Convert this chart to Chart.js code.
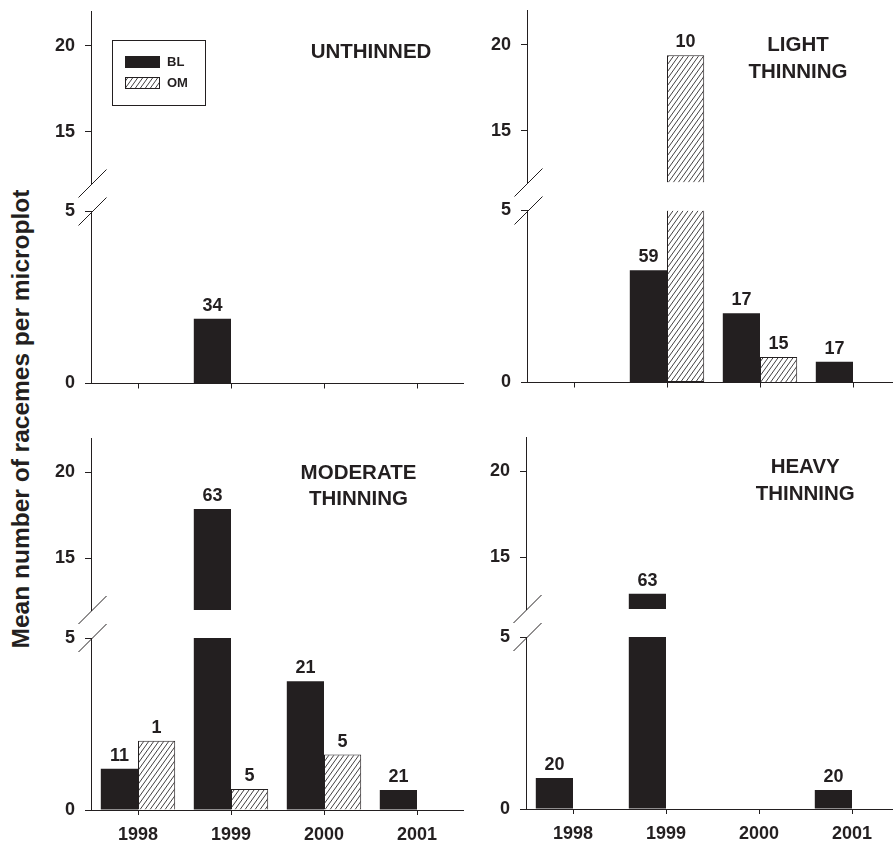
<!DOCTYPE html>
<html>
<head>
<meta charset="utf-8">
<script src="https://cdn.jsdelivr.net/npm/chart.js@4.4.0/dist/chart.umd.min.js"></script>
<style>
  html, body { margin: 0; padding: 0; background: #fff; overflow: hidden; }
  #fig { position: relative; width: 893px; height: 843px; overflow: hidden; background: #fff; }
  #fig canvas { position: absolute; }
  #ytitle {
    position: absolute; left: 21px; top: 419px;
    transform: translate(-50%, -50%) rotate(-90deg);
    font: bold 24.5px 'Liberation Sans', Arial, Helvetica, sans-serif;
    color: #231f20; white-space: nowrap;
  }
</style>
</head>
<body>
<div id="fig">
  <div id="ytitle">Mean number of racemes per microplot</div>
</div>
<script>
// ---- data ----------------------------------------------------------------
const YEARS = ['1998', '1999', '2000', '2001'];
const LOW_TICKS = [0, 5];
const HIGH_TICKS = [15, 20];
const LOW_RANGE = [0, 5];     // lower segment of the broken axis
const HIGH_RANGE = [12, 22];  // upper segment of the broken axis

// mean racemes per microplot, and sample sizes printed above the bars
const UNTHINNED_BL = [0, 1.88, 0, 0];
const UNTHINNED_OM = [0, 0, 0, 0];
const UNTHINNED_BL_N = [null, 34, null, null];
const UNTHINNED_OM_N = [null, null, null, null];

const LIGHT_BL = [0, 3.26, 2.01, 0.60];
const LIGHT_OM = [0, 19.4, 0.74, 0];
const LIGHT_BL_N = [null, 59, 17, 17];
const LIGHT_OM_N = [null, 10, 15, null];

const MODERATE_BL = [1.20, 17.87, 3.74, 0.58];
const MODERATE_OM = [2.01, 0.61, 1.61, 0];
const MODERATE_BL_N = [11, 63, 21, 21];
const MODERATE_OM_N = [1, 5, 5, null];

const HEAVY_BL = [0.90, 12.89, 0, 0.55];
const HEAVY_OM = [0, 0, 0, 0];
const HEAVY_BL_N = [20, 63, null, 20];
const HEAVY_OM_N = [null, null, null, null];

// ---- styling ---------------------------------------------------------------
const INK = '#231f20';
const FONT = "'Liberation Sans', Arial, Helvetica, sans-serif";
Chart.defaults.font.family = FONT;
Chart.defaults.font.weight = 'bold';
Chart.defaults.color = INK;

function makeHatch() {
  const w = 5, h = 7;
  const c = document.createElement('canvas');
  c.width = w; c.height = h;
  const g = c.getContext('2d');
  g.fillStyle = '#fff';
  g.fillRect(0, 0, w, h);
  g.strokeStyle = '#2e2a2b';
  g.lineWidth = 0.9;
  for (let k = -1; k <= 1; k++) {
    g.beginPath();
    g.moveTo(k * w, h);
    g.lineTo(k * w + w, 0);
    g.stroke();
  }
  return g.createPattern(c, 'repeat');
}
const HATCH = makeHatch();

const lowPart = v => (v == null ? null : Math.min(v, LOW_RANGE[1]));
const highPart = v => (v != null && v > HIGH_RANGE[0] ? [HIGH_RANGE[0], v] : null);

// ---- decorations: n labels, panel titles, legend, axis-break marks --------
const panelDeco = {
  id: 'panelDeco',
  afterDatasetsDraw(chart, args, o) {
    const ctx = chart.ctx;
    ctx.save();
    ctx.fillStyle = INK;
    ctx.font = 'bold 18px ' + FONT;
    ctx.textAlign = 'center';
    ctx.textBaseline = 'alphabetic';
    [[0, 2, o.blN], [1, 3, o.omN]].forEach(([lo, hi, ns]) => {
      ns.forEach((n, i) => {
        if (n == null) return;
        const useHigh = chart.data.datasets[hi].data[i] != null;
        const el = chart.getDatasetMeta(useHigh ? hi : lo).data[i];
        ctx.fillText(String(n), el.x, el.y - 8);
      });
    });
    ctx.restore();
  },
  afterDraw(chart, args, o) {
    const ctx = chart.ctx;
    const a = chart.chartArea;
    ctx.save();
    // panel title
    ctx.fillStyle = INK;
    ctx.font = 'bold 20.5px ' + FONT;
    ctx.textAlign = 'center';
    ctx.textBaseline = 'middle';
    o.title.forEach((line, k) => {
      ctx.fillText(line, a.left + o.titleX, a.top + o.titleY + k * 26.5);
    });
    // axis-break marks
    const yl = chart.scales.yLow, yh = chart.scales.yHigh;
    const ax = Math.round(yl.right) + 0.5;
    ctx.strokeStyle = INK;
    ctx.lineWidth = 1;
    [yh.bottom, yl.top].forEach(y => {
      ctx.beginPath();
      ctx.moveTo(ax - 14, y + 14);
      ctx.lineTo(ax + 14, y - 14);
      ctx.stroke();
    });
    // legend
    if (o.legend) {
      const L = a.left + 20, T = a.top + 28;
      ctx.strokeStyle = INK;
      ctx.lineWidth = 1;
      ctx.strokeRect(Math.round(L) + 0.5, Math.round(T) + 0.5, 93, 65);
      const items = chart.data.datasets.slice(0, 2);
      ctx.font = 'bold 13px ' + FONT;
      ctx.textAlign = 'left';
      items.forEach((ds, k) => {
        const sy = Math.round(T + 16.5 + k * 21);
        const sx = Math.round(L + 13);
        ctx.fillStyle = ds.backgroundColor;
        ctx.fillRect(sx, sy, 35, 12);
        if (ds.borderWidth) {
          ctx.strokeStyle = INK;
          ctx.strokeRect(sx + 0.5, sy + 0.5, 34, 11);
        }
        ctx.fillStyle = INK;
        ctx.fillText(ds.label, L + 55.5, sy + 6.5);
      });
    }
    ctx.restore();
  }
};

// ---- panels ----------------------------------------------------------------
const PAD_L = 92, PAD_T = 12, PAD_R = 6, PAD_B = 40;

function makePanel(p) {
  const fig = document.getElementById('fig');
  const cv = document.createElement('canvas');
  const left = Math.floor(p.area.L - PAD_L);
  const top = Math.floor(p.area.T - PAD_T);
  const width = Math.ceil(p.area.R + PAD_R) - left;
  const height = Math.ceil(p.area.B + PAD_B) - top;
  cv.width = width; cv.height = height;
  cv.style.left = left + 'px';
  cv.style.top = top + 'px';
  cv.style.width = width + 'px';
  cv.style.height = height + 'px';
  fig.appendChild(cv);

  const yW = p.area.L - left;
  const xH = PAD_B;
  const padTop = p.area.T - top;
  const padRight = left + width - p.area.R;
  const padBottom = top + height - p.area.B - xH;

  const yCommon = (range, ticks, weight) => ({
    type: 'linear', position: 'left', stack: 'v', stackWeight: weight,
    min: range[0], max: range[1], beginAtZero: false, stacked: false,
    afterBuildTicks: s => { s.ticks = ticks.map(v => ({ value: v })); },
    afterFit: s => { s.width = yW; s.paddingTop = 0; s.paddingBottom = 0; },
    grid: { drawOnChartArea: false, drawTicks: true, tickLength: 6.5, color: INK, lineWidth: 1 },
    border: { display: true, color: INK, width: 1 },
    ticks: { padding: 10, font: { size: 18, weight: 'bold' }, color: INK }
  });

  return new Chart(cv, {
    type: 'bar',
    data: {
      labels: YEARS,
      datasets: [
        { label: 'BL', data: p.bl.map(lowPart), yAxisID: 'yLow', stack: 'BL',
          backgroundColor: INK, borderWidth: 0 },
        { label: 'OM', data: p.om.map(lowPart), yAxisID: 'yLow', stack: 'OM',
          backgroundColor: HATCH, borderColor: INK, borderWidth: 1,
          borderSkipped: c => (p.om[c.dataIndex] > LOW_RANGE[1] ? 'top' : 'start') },
        { label: 'BL', data: p.bl.map(highPart), yAxisID: 'yHigh', stack: 'BL',
          backgroundColor: INK, borderWidth: 0 },
        { label: 'OM', data: p.om.map(highPart), yAxisID: 'yHigh', stack: 'OM',
          backgroundColor: HATCH, borderColor: INK, borderWidth: 1 }
      ]
    },
    options: {
      responsive: false,
      animation: false,
      devicePixelRatio: 1,
      layout: { padding: { left: 0, top: padTop, right: padRight, bottom: padBottom } },
      datasets: { bar: { categoryPercentage: 0.8, barPercentage: 1.0 } },
      plugins: {
        legend: { display: false },
        tooltip: { enabled: false },
        title: { display: false },
        panelDeco: { blN: p.blN, omN: p.omN, title: p.title, titleX: p.titleX, titleY: p.titleY, legend: !!p.legend }
      },
      scales: {
        x: {
          type: 'category', offset: true,
          afterFit: s => { s.height = xH; s.paddingLeft = 0; s.paddingRight = 0; },
          grid: { offset: false, drawOnChartArea: false, drawTicks: true, tickLength: 5, color: INK, lineWidth: 1 },
          border: { display: true, color: INK, width: 1 },
          ticks: { display: p.years, padding: 9, font: { size: 18, weight: 'bold' }, color: INK,
                   maxRotation: 0, autoSkip: false }
        },
        yLow: Object.assign(yCommon(LOW_RANGE, LOW_TICKS, 172), { weight: 1 }),
        yGap: { type: 'linear', position: 'left', stack: 'v', stackWeight: 28, display: false,
                min: 0, max: 1, weight: 2 },
        yHigh: Object.assign(yCommon(HIGH_RANGE, HIGH_TICKS, 172), { weight: 3 })
      }
    },
    plugins: [panelDeco]
  });
}

makePanel({ bl: UNTHINNED_BL, om: UNTHINNED_OM, blN: UNTHINNED_BL_N, omN: UNTHINNED_OM_N,
  title: ['UNTHINNED'], titleX: 279.5, titleY: 40.5, legend: true, years: false,
  area: { L: 91.5, T: 11.5, R: 463.5, B: 383.5 } });
makePanel({ bl: LIGHT_BL, om: LIGHT_OM, blN: LIGHT_BL_N, omN: LIGHT_OM_N,
  title: ['LIGHT', 'THINNING'], titleX: 270.5, titleY: 35.2, years: false,
  area: { L: 527.5, T: 10.5, R: 899.5, B: 382.5 } });
makePanel({ bl: MODERATE_BL, om: MODERATE_OM, blN: MODERATE_BL_N, omN: MODERATE_OM_N,
  title: ['MODERATE', 'THINNING'], titleX: 267, titleY: 35.2, years: true,
  area: { L: 91.5, T: 438, R: 463.5, B: 810 } });
makePanel({ bl: HEAVY_BL, om: HEAVY_OM, blN: HEAVY_BL_N, omN: HEAVY_OM_N,
  title: ['HEAVY', 'THINNING'], titleX: 278.7, titleY: 30.5, years: true,
  area: { L: 526.5, T: 437, R: 898.5, B: 809 } });
</script>
</body>
</html>
